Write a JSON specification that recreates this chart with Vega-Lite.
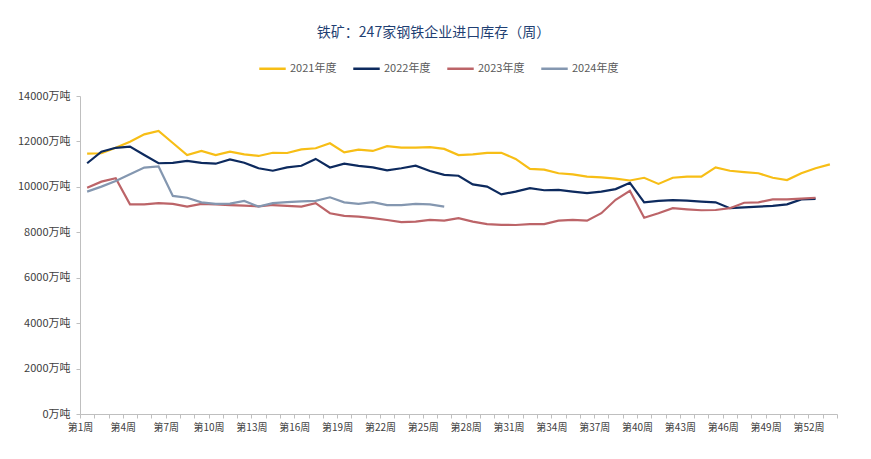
{
  "$schema": "https://vega.github.io/schema/vega-lite/v6.json",
  "width": 757,
  "height": 318,
  "autosize": {"type": "none"},
  "padding": {"left": 80, "top": 96, "right": 34, "bottom": 45},
  "background": "white",
  "title": {
    "text": "铁矿：247家钢铁企业进口库存（周）",
    "anchor": "middle",
    "dx": -25,
    "offset": 14,
    "fontSize": 14,
    "font": "Noto Sans CJK SC",
    "fontWeight": "normal",
    "color": "#1F3F73"
  },
  "data": {
    "values": [
      {"w": 1, "2021年度": 11460, "2022年度": 11040, "2023年度": 9960, "2024年度": 9790},
      {"w": 2, "2021年度": 11480, "2022年度": 11550, "2023年度": 10230, "2024年度": 10010},
      {"w": 3, "2021年度": 11720, "2022年度": 11720, "2023年度": 10380, "2024年度": 10260},
      {"w": 4, "2021年度": 11990, "2022年度": 11770, "2023年度": 9230, "2024年度": 10550},
      {"w": 5, "2021年度": 12310, "2022年度": 11400, "2023年度": 9230, "2024年度": 10850},
      {"w": 6, "2021年度": 12460, "2022年度": 11040, "2023年度": 9280, "2024年度": 10900},
      {"w": 7, "2021年度": 11930, "2022年度": 11060, "2023年度": 9250, "2024年度": 9600},
      {"w": 8, "2021年度": 11400, "2022年度": 11140, "2023年度": 9130, "2024年度": 9520},
      {"w": 9, "2021年度": 11580, "2022年度": 11060, "2023年度": 9250, "2024年度": 9320},
      {"w": 10, "2021年度": 11400, "2022年度": 11020, "2023年度": 9230, "2024年度": 9250},
      {"w": 11, "2021年度": 11550, "2022年度": 11210, "2023年度": 9200, "2024年度": 9260},
      {"w": 12, "2021年度": 11430, "2022年度": 11060, "2023年度": 9170, "2024年度": 9380},
      {"w": 13, "2021年度": 11360, "2022年度": 10820, "2023年度": 9140, "2024年度": 9130},
      {"w": 14, "2021年度": 11500, "2022年度": 10710, "2023年度": 9200, "2024年度": 9280},
      {"w": 15, "2021年度": 11490, "2022年度": 10860, "2023年度": 9160, "2024年度": 9330},
      {"w": 16, "2021年度": 11650, "2022年度": 10930, "2023年度": 9130, "2024年度": 9360},
      {"w": 17, "2021年度": 11700, "2022年度": 11230, "2023年度": 9280, "2024年度": 9380},
      {"w": 18, "2021年度": 11920, "2022年度": 10850, "2023年度": 8840, "2024年度": 9540},
      {"w": 19, "2021年度": 11520, "2022年度": 11020, "2023年度": 8720, "2024年度": 9320},
      {"w": 20, "2021年度": 11640, "2022年度": 10920, "2023年度": 8690, "2024年度": 9250},
      {"w": 21, "2021年度": 11580, "2022年度": 10860, "2023年度": 8620, "2024年度": 9330},
      {"w": 22, "2021年度": 11790, "2022年度": 10730, "2023年度": 8540, "2024年度": 9200},
      {"w": 23, "2021年度": 11730, "2022年度": 10820, "2023年度": 8450, "2024年度": 9200},
      {"w": 24, "2021年度": 11730, "2022年度": 10930, "2023年度": 8470, "2024年度": 9250},
      {"w": 25, "2021年度": 11750, "2022年度": 10700, "2023年度": 8550, "2024年度": 9230},
      {"w": 26, "2021年度": 11670, "2022年度": 10530, "2023年度": 8510, "2024年度": 9130},
      {"w": 27, "2021年度": 11400, "2022年度": 10490, "2023年度": 8620},
      {"w": 28, "2021年度": 11430, "2022年度": 10110, "2023年度": 8470},
      {"w": 29, "2021年度": 11500, "2022年度": 10010, "2023年度": 8360},
      {"w": 30, "2021年度": 11500, "2022年度": 9670, "2023年度": 8330},
      {"w": 31, "2021年度": 11230, "2022年度": 9790, "2023年度": 8320},
      {"w": 32, "2021年度": 10790, "2022年度": 9940, "2023年度": 8360},
      {"w": 33, "2021年度": 10760, "2022年度": 9850, "2023年度": 8360},
      {"w": 34, "2021年度": 10600, "2022年度": 9870, "2023年度": 8510},
      {"w": 35, "2021年度": 10550, "2022年度": 9790, "2023年度": 8550},
      {"w": 36, "2021年度": 10450, "2022年度": 9720, "2023年度": 8510},
      {"w": 37, "2021年度": 10420, "2022年度": 9790, "2023年度": 8840},
      {"w": 38, "2021年度": 10360, "2022年度": 9900, "2023年度": 9430},
      {"w": 39, "2021年度": 10280, "2022年度": 10180, "2023年度": 9830},
      {"w": 40, "2021年度": 10400, "2022年度": 9320, "2023年度": 8640},
      {"w": 41, "2021年度": 10130, "2022年度": 9380, "2023年度": 8840},
      {"w": 42, "2021年度": 10400, "2022年度": 9420, "2023年度": 9060},
      {"w": 43, "2021年度": 10450, "2022年度": 9390, "2023年度": 9010},
      {"w": 44, "2021年度": 10450, "2022年度": 9350, "2023年度": 8970},
      {"w": 45, "2021年度": 10860, "2022年度": 9320, "2023年度": 8980},
      {"w": 46, "2021年度": 10710, "2022年度": 9060, "2023年度": 9060},
      {"w": 47, "2021年度": 10650, "2022年度": 9100, "2023年度": 9300},
      {"w": 48, "2021年度": 10600, "2022年度": 9130, "2023年度": 9320},
      {"w": 49, "2021年度": 10400, "2022年度": 9160, "2023年度": 9450},
      {"w": 50, "2021年度": 10300, "2022年度": 9230, "2023年度": 9450},
      {"w": 51, "2021年度": 10600, "2022年度": 9450, "2023年度": 9480},
      {"w": 52, "2021年度": 10820, "2022年度": 9470, "2023年度": 9520},
      {"w": 53, "2021年度": 10990}
    ]
  },
  "transform": [
    {"fold": ["2021年度", "2022年度", "2023年度", "2024年度"], "as": ["series", "value"]},
    {"filter": "isValid(datum.value)"}
  ],
  "mark": {"type": "line", "strokeWidth": 2.2},
  "encoding": {
    "x": {
      "field": "w",
      "type": "quantitative",
      "scale": {"domain": [0.5, 53.5], "nice": false, "zero": false},
      "axis": {
        "title": null,
        "grid": false,
        "values": [0.5, 1.5, 2.5, 3.5, 4.5, 5.5, 6.5, 7.5, 8.5, 9.5, 10.5, 11.5, 12.5, 13.5, 14.5, 15.5, 16.5, 17.5, 18.5, 19.5, 20.5, 21.5, 22.5, 23.5, 24.5, 25.5, 26.5, 27.5, 28.5, 29.5, 30.5, 31.5, 32.5, 33.5, 34.5, 35.5, 36.5, 37.5, 38.5, 39.5, 40.5, 41.5, 42.5, 43.5, 44.5, 45.5, 46.5, 47.5, 48.5, 49.5, 50.5, 51.5, 52.5, 53.5],
        "labelExpr": "(datum.value - 0.5) % 3 == 0 ? '第' + (datum.value + 0.5) + '周' : ''",
        "labelDx": 7.1,
        "labelOverlap": false,
        "labelFlush": false,
        "labelBound": false,
        "labelAngle": 0,
        "labelFontSize": 10,
        "labelColor": "#404040",
        "labelFont": "Noto Sans CJK SC",
        "labelPadding": 4,
        "tickSize": 4,
        "tickColor": "#bfbfbf",
        "domainColor": "#bfbfbf"
      }
    },
    "y": {
      "field": "value",
      "type": "quantitative",
      "scale": {"domain": [0, 14000], "nice": false},
      "axis": {
        "title": null,
        "grid": false,
        "values": [0, 2000, 4000, 6000, 8000, 10000, 12000, 14000],
        "labelExpr": "datum.value + '万吨'",
        "labelFontSize": 11,
        "labelColor": "#404040",
        "labelFont": "Noto Sans CJK SC",
        "labelPadding": 6,
        "tickSize": 4,
        "tickColor": "#bfbfbf",
        "domainColor": "#bfbfbf"
      }
    },
    "color": {
      "field": "series",
      "type": "nominal",
      "scale": {
        "domain": ["2021年度", "2022年度", "2023年度", "2024年度"],
        "range": ["#F7BE16", "#0D2A5E", "#BC6468", "#8497B0"]
      },
      "legend": {
        "title": null,
        "orient": "none",
        "direction": "horizontal",
        "legendX": 178,
        "legendY": -42,
        "symbolType": "stroke",
        "symbolSize": 700,
        "symbolStrokeWidth": 2.5,
        "labelFontSize": 11,
        "labelColor": "#595959",
        "labelFont": "Noto Sans CJK SC",
        "labelOffset": 3,
        "columnPadding": 11
      }
    }
  },
  "config": {"view": {"stroke": null}, "font": "Noto Sans CJK SC"}
}
